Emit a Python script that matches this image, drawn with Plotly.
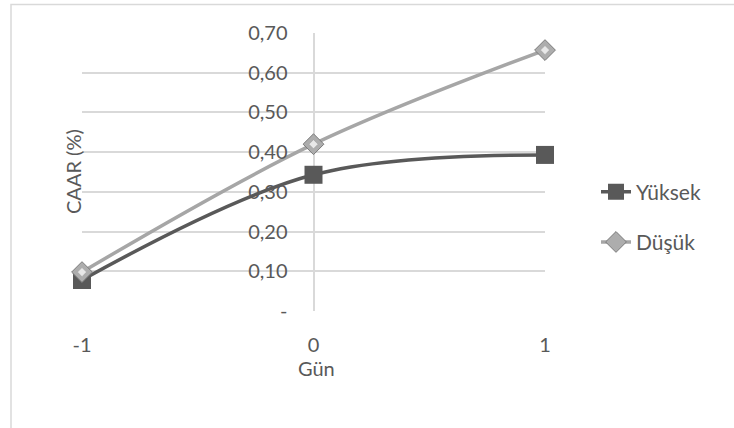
import plotly.graph_objects as go

# Event-window days and cumulative average abnormal returns (%)
days = [-1, 0, 1]
yuksek = [0.078, 0.343, 0.393]
dusuk = [0.098, 0.420, 0.657]

y_ticks = [0.0, 0.1, 0.2, 0.3, 0.4, 0.5, 0.6, 0.7]
y_ticklabels = ["-", "0,10", "0,20", "0,30", "0,40", "0,50", "0,60", "0,70"]
x_ticklabels = ["-1", "0", "1"]

W, H = 734, 428
FONT = "Lato"
FS = 20
TEXT = "#595959"
GRID = "#d9d9d9"

# plot area in pixels
left, right, top, bottom = 82, 545, 33, 311
xdom = [left / W, right / W]
ydom = [1 - bottom / H, 1 - top / H]
yaxis_x = (left + right) / 2 / W

fig = go.Figure()

fig.add_trace(go.Scatter(
    x=days, y=yuksek, name="Yüksek", mode="lines+markers",
    line=dict(color="#595959", width=3.5, shape="spline", smoothing=1),
    marker=dict(symbol="square", size=18, color="#595959"),
    legendgroup="a", cliponaxis=False,
))
fig.add_trace(go.Scatter(
    x=days, y=dusuk, name="Düşük", mode="lines+markers",
    line=dict(color="#a6a6a6", width=3.5, shape="spline", smoothing=1),
    marker=dict(symbol="diamond", size=16, color="#adadad",
                line=dict(color="#7a7a7a", width=1)),
    legendgroup="b", cliponaxis=False,
))
# bevel highlight on the diamond markers
fig.add_trace(go.Scatter(
    x=days, y=dusuk, mode="markers", showlegend=False, hoverinfo="skip",
    marker=dict(symbol="diamond", size=7, color="#e8e8e8",
                line=dict(color="#999999", width=0.5)),
    cliponaxis=False,
))

fig.update_layout(
    width=W, height=H,
    autosize=False,
    margin=dict(l=0, r=0, t=0, b=0, pad=0, autoexpand=False),
    paper_bgcolor="white", plot_bgcolor="white",
    font=dict(family=FONT, size=FS, color=TEXT),
    showlegend=True,
    legend=dict(x=596 / W, y=1 - 217 / H, xanchor="left", yanchor="middle",
                traceorder="grouped", tracegroupgap=20,
                font=dict(family=FONT, size=21, color=TEXT),
                bgcolor="rgba(0,0,0,0)"),
    xaxis=dict(domain=xdom, range=[-1, 1], tickvals=days, ticktext=x_ticklabels,
               showgrid=False, zeroline=True, zerolinecolor=GRID, zerolinewidth=1.5,
               showline=False, ticks="", ticklabelstandoff=20, automargin=False,
               tickfont=dict(size=FS, color=TEXT)),
    yaxis=dict(domain=ydom, range=[0, 0.7], tickvals=y_ticks, ticktext=y_ticklabels,
               showgrid=True, gridcolor=GRID, gridwidth=1.5, zeroline=False,
               showline=False, ticks="", anchor="free", position=yaxis_x,
               ticklabelstandoff=26, automargin=False,
               tickfont=dict(size=FS, color=TEXT)),
    annotations=[
        dict(text="Gün", x=316 / W, y=1 - 382 / H, xref="paper", yref="paper",
             showarrow=False, font=dict(size=FS, color=TEXT)),
        dict(text="CAAR (%)", x=59 / W, y=1 - 172 / H, xref="paper", yref="paper",
             showarrow=False, textangle=-90, font=dict(size=FS, color=TEXT)),
    ],
    shapes=[
        dict(type="rect", xref="paper", yref="paper",
             x0=11 / W, x1=1.05, y0=-0.05, y1=1 - 4.5 / H,
             line=dict(color=GRID, width=1.5), layer="below"),
    ],
)

fig.write_html("out.html")
